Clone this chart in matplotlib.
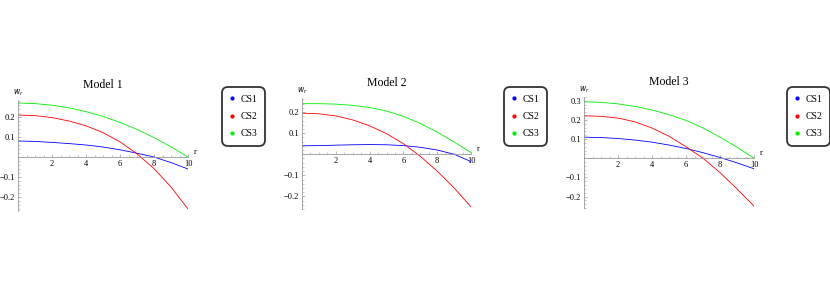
import numpy as np
import matplotlib.pyplot as plt
from matplotlib.lines import Line2D
from matplotlib.ticker import MultipleLocator, FixedLocator, FuncFormatter

plt.rcParams['font.family'] = ['Liberation Serif', 'DejaVu Serif']

r = [0, 1, 2, 3, 4, 5, 6, 7, 8, 9, 10]

# Model 1
m1_cs1 = [0.080, 0.078, 0.073, 0.067, 0.060, 0.050, 0.036, 0.019, 0.000, -0.028, -0.060]
m1_cs2 = [0.210, 0.207, 0.197, 0.180, 0.156, 0.122, 0.076, 0.016, -0.058, -0.150, -0.260]
m1_cs3 = [0.270, 0.267, 0.259, 0.246, 0.227, 0.203, 0.173, 0.138, 0.097, 0.051, 0.000]

# Model 2
m2_cs1 = [0.040, 0.041, 0.043, 0.045, 0.046, 0.045, 0.041, 0.033, 0.020, 0.000, -0.035]
m2_cs2 = [0.195, 0.192, 0.182, 0.163, 0.135, 0.098, 0.050, -0.010, -0.080, -0.160, -0.250]
m2_cs3 = [0.240, 0.240, 0.238, 0.232, 0.222, 0.205, 0.180, 0.146, 0.105, 0.058, 0.008]

# Model 3
m3_cs1 = [0.110, 0.108, 0.103, 0.095, 0.084, 0.069, 0.051, 0.029, 0.004, -0.024, -0.055]
m3_cs2 = [0.222, 0.219, 0.210, 0.190, 0.158, 0.115, 0.060, 0.000, -0.075, -0.160, -0.250]
m3_cs3 = [0.295, 0.292, 0.284, 0.271, 0.252, 0.228, 0.198, 0.158, 0.110, 0.058, 0.000]

titles = ['Model 1', 'Model 2', 'Model 3']
labels = ['CS1', 'CS2', 'CS3']
colors = ['#0000ff', '#ff0000', '#00ee00']
models = [[m1_cs1, m1_cs2, m1_cs3], [m2_cs1, m2_cs2, m2_cs3], [m3_cs1, m3_cs2, m3_cs3]]

W, H = 830, 284
# pixel layout: (x0, x1, ytop, ybottom)
boxes = [(18, 188, 100, 211), (302, 471, 98, 209), (584, 754, 97, 208)]
ylims = [(-0.27, 0.285), (-0.26, 0.267), (-0.26, 0.32)]
yticks = [[-0.2, -0.1, 0.1, 0.2], [-0.2, -0.1, 0.1, 0.2], [-0.2, -0.1, 0.1, 0.2, 0.3]]
legpos = [(222, 87), (504, 87), (787, 87)]

fig = plt.figure(figsize=(W / 100, H / 100), dpi=100)
axcol = '#999999'

for i in range(3):
    x0, x1, yt, yb = boxes[i]
    ax = fig.add_axes([x0 / W, 1 - yb / H, (x1 - x0) / W, (yb - yt) / H])
    for j in range(3):
        ax.plot(r, models[i][j], color=colors[j], lw=0.6)
    ax.set_xlim(0, 10)
    ax.set_ylim(*ylims[i])
    ax.spines['left'].set_position(('data', 0))
    ax.spines['bottom'].set_position(('data', 0))
    ax.spines['right'].set_visible(False)
    ax.spines['top'].set_visible(False)
    for s in ['left', 'bottom']:
        ax.spines[s].set_color(axcol)
        ax.spines[s].set_linewidth(0.6)
    ax.xaxis.set_major_locator(FixedLocator([2, 4, 6, 8, 10]))
    ax.xaxis.set_minor_locator(MultipleLocator(0.5))
    ax.yaxis.set_major_locator(FixedLocator(yticks[i]))
    ax.yaxis.set_minor_locator(MultipleLocator(0.02))
    ax.xaxis.set_major_formatter(FuncFormatter(lambda v, p: '%d' % v))
    ax.yaxis.set_major_formatter(FuncFormatter(lambda v, p: ('%.1f' % v).replace('-', '\u2212')))
    ax.tick_params(which='major', direction='in', length=2.5, width=0.5, color=axcol,
                   labelsize=6, pad=2)
    ax.tick_params(which='minor', direction='in', length=1.3, width=0.4, color=axcol)
    ax.set_title(titles[i], fontsize=8.5, pad=9)
    ax.text(0, 1.02, '$w_r$', transform=ax.transAxes, fontsize=5.5, ha='center', va='bottom')
    ax.text(10.45, 0.004, 'r', fontsize=6, ha='center', va='bottom')
    handles = [Line2D([], [], ls='none', marker='o', ms=2, color=c) for c in colors]
    lx, ly = legpos[i]
    leg = fig.legend(handles, labels, loc='upper left', bbox_to_anchor=(lx / W, 1 - ly / H),
                     fontsize=7, frameon=True, fancybox=True, handlelength=0.5,
                     handletextpad=0.6, labelspacing=0.85, borderpad=0.8, borderaxespad=0)
    fr = leg.get_frame()
    fr.set_edgecolor('black')
    fr.set_linewidth(1.3)
    fr.set_boxstyle('round', pad=0.0, rounding_size=0.6)

fig.savefig('out.png', dpi=100)
